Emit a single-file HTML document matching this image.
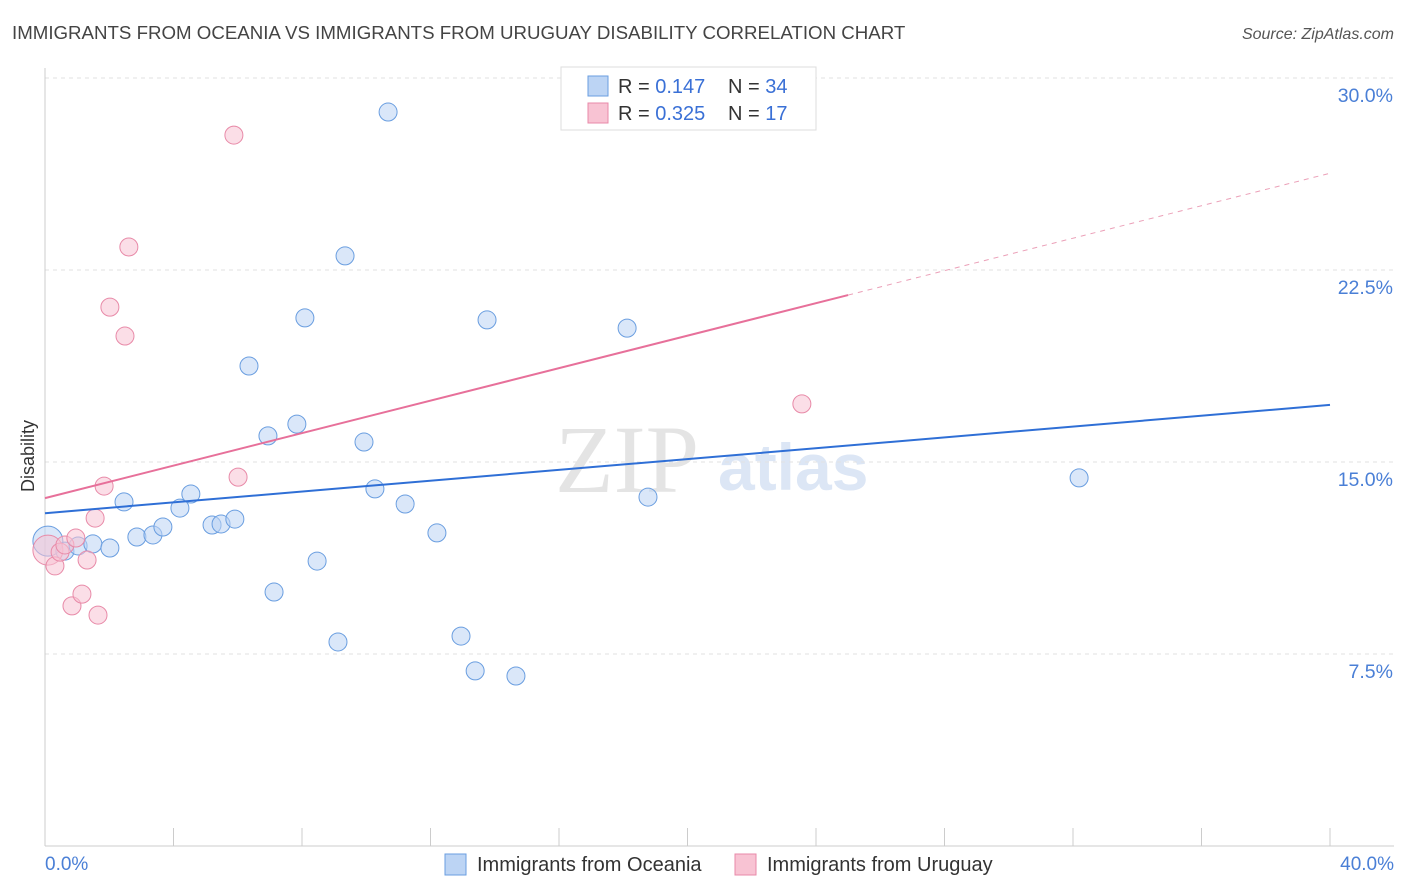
<!DOCTYPE html>
<html><head><meta charset="utf-8">
<style>
body{margin:0;background:#fff;font-family:"Liberation Sans",sans-serif;}
#wrap{position:relative;width:1406px;height:892px;overflow:hidden;}
</style></head>
<body>
<div id="wrap">
<svg id="chart" width="1406" height="892"></svg>
</div>
<script>
const blueX=[0.09,0.62,1.03,1.49,2.02,2.46,2.86,3.36,3.67,4.20,4.54,5.20,5.48,5.91,6.35,6.94,7.13,7.84,8.09,8.47,9.12,9.34,9.93,10.27,10.68,11.21,12.20,12.95,13.39,13.76,14.66,18.12,18.77,32.19];
const blueY=[11.91,11.52,11.72,11.80,11.64,13.44,12.07,12.15,12.46,13.20,13.75,12.54,12.58,12.77,18.75,16.02,9.92,16.48,20.63,11.13,7.97,23.05,15.78,13.95,28.67,13.36,12.23,8.20,6.84,20.55,6.64,20.23,13.63,14.38];
const pinkX=[0.09,0.31,0.47,0.62,0.84,0.96,1.15,1.31,1.56,1.65,1.84,2.02,2.49,2.61,5.88,6.01,23.56];
const pinkY=[11.56,10.94,11.48,11.76,9.38,12.03,9.84,11.17,12.81,9.02,14.06,21.05,19.92,23.40,27.77,14.41,17.27];
const yTicks=[7.5,15,22.5,30];
const yTickLabels=["7.5%","15.0%","22.5%","30.0%"];
const blueTrend=[13.0,17.23];
const pinkTrend=[13.59,26.28];
const pinkSolidEnd=25;

const NS="http://www.w3.org/2000/svg";
const svg=document.getElementById('chart');
const X0=45,X1=1330,Y0=846,PX_PER_Y=25.6;
const sx=v=>X0+(X1-X0)*v/40;
const sy=v=>Y0-v*PX_PER_Y;
function mk(tag,attrs,parent){const e=document.createElementNS(NS,tag);for(const k in attrs)e.setAttribute(k,attrs[k]);(parent||svg).appendChild(e);return e;}

let t=mk('text',{x:12,y:39,'font-size':18.7,fill:'#444'});t.textContent='IMMIGRANTS FROM OCEANIA VS IMMIGRANTS FROM URUGUAY DISABILITY CORRELATION CHART';


t=mk('text',{x:1394,y:39,'font-size':16,fill:'#555','text-anchor':'end','font-style':'italic'});t.textContent='Source: ZipAtlas.com';



t=mk('text',{x:555,y:492,'font-size':96,fill:'#e4e4e4','font-family':'Liberation Serif, serif'});t.textContent='ZIP';


t=mk('text',{x:718,y:490,'font-size':66,fill:'#dce6f5','font-weight':'bold'});t.textContent='atlas';



yTicks.forEach((v,i)=>{
 const g=mk('line',{x1:X0,x2:1394,y1:sy(v),y2:sy(v),stroke:'#e2e2e2','stroke-dasharray':'4,4'});
 
 
 const l=mk('text',{x:1393,y:sy(v)+24,'font-size':19.5,fill:'#4a7fd6','text-anchor':'end'});l.textContent=yTickLabels[i];
 
 
});
let a=mk('line',{x1:X0,x2:X0,y1:68,y2:846,stroke:'#ccc'});


a=mk('line',{x1:X0,x2:1394,y1:846,y2:846,stroke:'#ccc'});


for(let i=0;i<=10;i++){const tk=mk('line',{x1:sx(i*4),x2:sx(i*4),y1:828,y2:846,stroke:'#ccc'});
 
 }
t=mk('text',{x:45,y:870,'font-size':19,fill:'#4a7fd6'});t.textContent='0.0%';


t=mk('text',{x:1394,y:870,'font-size':19,fill:'#4a7fd6','text-anchor':'end'});t.textContent='40.0%';


t=mk('text',{x:34,y:456,'font-size':18,fill:'#333','text-anchor':'middle',transform:'rotate(-90 34 456)'});t.textContent='Disability';



function pts(xs,ys,fill,stroke,name){
 xs.forEach((x,i)=>{const r=(i===0)?15:9;
  const c=mk('circle',{cx:sx(x),cy:sy(ys[i]),r:r,fill:fill,stroke:stroke,'stroke-width':1,'fill-opacity':0.55});
  
  });
}
pts(blueX,blueY,'#bcd4f4','#6a9ee0','point-oceania');
pts(pinkX,pinkY,'#f8c3d3','#e88aa8','point-uruguay');

let ln=mk('line',{x1:sx(0),y1:sy(blueTrend[0]),x2:sx(40),y2:sy(blueTrend[1]),stroke:'#2f6fd6','stroke-width':2});


const pAt=v=>pinkTrend[0]+(pinkTrend[1]-pinkTrend[0])*v/40;
ln=mk('line',{x1:sx(0),y1:sy(pinkTrend[0]),x2:sx(pinkSolidEnd),y2:sy(pAt(pinkSolidEnd)),stroke:'#e7709a','stroke-width':2});


ln=mk('line',{x1:sx(pinkSolidEnd),y1:sy(pAt(pinkSolidEnd)),x2:sx(40),y2:sy(pinkTrend[1]),stroke:'#eba0b8','stroke-width':1,'stroke-dasharray':'5,5'});



const lg=mk('rect',{x:561,y:67,width:255,height:63,fill:'#fff',stroke:'#ddd'});


function legRow(y,fill,stroke,r,n,name){
 const s=mk('rect',{x:588,y:y-10,width:20,height:20,fill:fill,stroke:stroke});
 
 
 const tx=mk('text',{x:618,y:y+7,'font-size':20,fill:'#333'});
 tx.innerHTML='R = <tspan fill="#3a70d6">'+r+'</tspan><tspan x="728">N = </tspan><tspan fill="#3a70d6">'+n+'</tspan>';
 
 
}
legRow(86,'#bcd4f4','#6a9ee0',' 0.147','34','legend-oceania');
legRow(113,'#f8c3d3','#e88aa8','0.325','  17','legend-uruguay');

function bl(x,fill,stroke,label,name){
 const s=mk('rect',{x:x,y:854,width:21,height:21,fill:fill,stroke:stroke});
 
 
 const tx=mk('text',{x:x+32,y:871,'font-size':20,fill:'#333'});tx.textContent=label;
 
 
}
bl(445,'#bcd4f4','#6a9ee0','Immigrants from Oceania','legend-entry-oceania');
bl(735,'#f8c3d3','#e88aa8','Immigrants from Uruguay','legend-entry-uruguay');
</script>
</body></html>
